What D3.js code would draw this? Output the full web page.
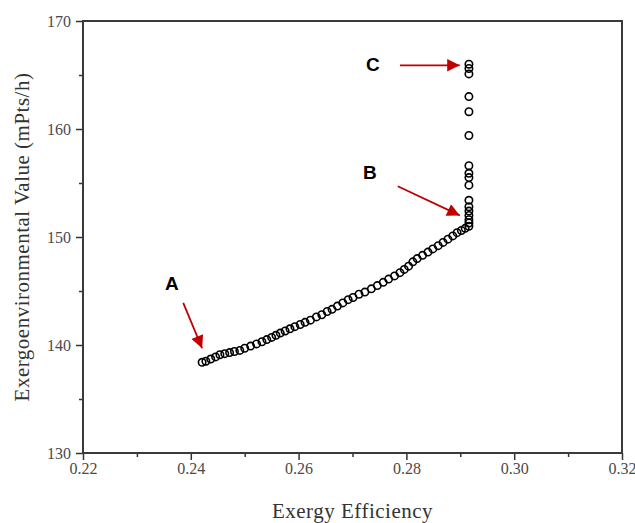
<!DOCTYPE html>
<html>
<head>
<meta charset="utf-8">
<script src="https://cdn.jsdelivr.net/npm/d3@7"></script>
<style>
  body { margin: 0; background: #fff; }
  .tick text { font-family: "Liberation Serif", serif; font-size: 16px; fill: #4a4a4a; }
  .tick line { stroke: #333; stroke-width: 1.5; }
  .domain { display: none; }
</style>
</head>
<body>
<script>
// data
var xTicks = [0.22, 0.24, 0.26, 0.28, 0.30, 0.32];
var yTicks = [130, 140, 150, 160, 170];

var curveX = [0.2421, 0.2428, 0.2437, 0.2446, 0.2454, 0.2463, 0.2472, 0.2481, 0.2491, 0.2500,
              0.2511, 0.2522, 0.2532, 0.2541, 0.2550, 0.2558, 0.2566, 0.2575, 0.2584, 0.2593,
              0.2603, 0.2612, 0.2622, 0.2633, 0.2643, 0.2653, 0.2662, 0.2672, 0.2682, 0.2692,
              0.2701, 0.2712, 0.2723, 0.2735, 0.2746, 0.2757, 0.2767, 0.2778, 0.2788, 0.2796,
              0.2804, 0.2812, 0.2820, 0.2830, 0.2840, 0.2849, 0.2859, 0.2868, 0.2877, 0.2886,
              0.2894, 0.2902, 0.2909, 0.2916];
var curveY = [138.4, 138.5, 138.7, 138.9, 139.1, 139.2, 139.3, 139.4, 139.5, 139.7,
              139.9, 140.1, 140.3, 140.5, 140.7, 140.9, 141.1, 141.3, 141.5, 141.7,
              141.9, 142.1, 142.3, 142.6, 142.8, 143.1, 143.3, 143.6, 143.9, 144.2,
              144.4, 144.7, 144.9, 145.2, 145.5, 145.8, 146.1, 146.4, 146.7, 147.0,
              147.3, 147.7, 148.0, 148.3, 148.6, 148.9, 149.2, 149.5, 149.8, 150.1,
              150.4, 150.6, 150.8, 151.0];

// vertical stack at the max efficiency
var stackX = 0.2916;
var stackY = [151.3, 151.6, 152.0, 152.4, 152.8, 153.4, 154.8, 155.5, 155.9, 156.6,
              159.4, 161.6, 163.0, 165.1, 165.6, 166.0];

var labels = [
  {name: "A", lx: 0.2365, ly: 145.7, x0: 0.2386, y0: 143.9, x1: 0.2421, y1: 139.7},
  {name: "B", lx: 0.2732, ly: 156.0, x0: 0.2784, y0: 154.7, x1: 0.2899, y1: 152.0},
  {name: "C", lx: 0.2738, ly: 166.0, x0: 0.2788, y0: 165.9, x1: 0.2899, y1: 165.9}
];

var margin = {top: 21, right: 13, bottom: 70, left: 83},
    width = 635 - margin.left - margin.right,
    height = 523 - margin.top - margin.bottom;

var x = d3.scaleLinear().domain([0.22, 0.32]).range([0, width]);
var y = d3.scaleLinear().domain([130, 170]).range([height, 0]);

var svg = d3.select("body").append("svg")
    .attr("width", 635)
    .attr("height", 523)
  .append("g")
    .attr("transform", "translate(" + margin.left + "," + margin.top + ")");

// arrow head
svg.append("defs").append("marker")
    .attr("id", "head")
    .attr("viewBox", "0 0 10 10")
    .attr("refX", 10).attr("refY", 5)
    .attr("markerWidth", 8).attr("markerHeight", 7)
    .attr("markerUnits", "strokeWidth")
    .attr("orient", "auto")
  .append("path")
    .attr("d", "M0,0 L10,5 L0,10 z")
    .attr("fill", "#c00000");

// minor ticks
svg.append("g")
    .attr("transform", "translate(0," + height + ")")
    .call(d3.axisBottom(x).tickValues([0.23, 0.25, 0.27, 0.29, 0.31]).tickSize(4).tickFormat(""));
svg.append("g")
    .call(d3.axisLeft(y).tickValues([135, 145, 155, 165]).tickSize(4).tickFormat(""));

// major ticks
svg.append("g")
    .attr("transform", "translate(0," + height + ")")
    .call(d3.axisBottom(x).tickValues(xTicks).tickSize(7).tickPadding(3).tickFormat(d3.format(".2f")));
svg.append("g")
    .call(d3.axisLeft(y).tickValues(yTicks).tickSize(7).tickPadding(5).tickFormat(d3.format("d")));

// frame
svg.append("rect")
    .attr("width", width).attr("height", height)
    .attr("fill", "none")
    .attr("stroke", "#3a3a3a")
    .attr("stroke-width", 2);

var pts = curveX.map(function(d, i) { return {x: d, y: curveY[i]}; })
    .concat(stackY.map(function(d) { return {x: stackX, y: d}; }));

svg.selectAll(".pt")
    .data(pts)
  .enter().append("circle")
    .attr("class", "pt")
    .attr("cx", function(d) { return x(d.x); })
    .attr("cy", function(d) { return y(d.y); })
    .attr("r", 3.7)
    .attr("fill", "none")
    .attr("stroke", "#000")
    .attr("stroke-width", 1.6);

svg.selectAll(".arr")
    .data(labels)
  .enter().append("line")
    .attr("class", "arr")
    .attr("x1", function(d) { return x(d.x0); })
    .attr("y1", function(d) { return y(d.y0); })
    .attr("x2", function(d) { return x(d.x1); })
    .attr("y2", function(d) { return y(d.y1); })
    .attr("stroke", "#c00000")
    .attr("stroke-width", 1.8)
    .attr("marker-end", "url(#head)");

svg.selectAll(".lab")
    .data(labels)
  .enter().append("text")
    .attr("class", "lab")
    .attr("x", function(d) { return x(d.lx); })
    .attr("y", function(d) { return y(d.ly); })
    .attr("dy", "0.35em")
    .style("text-anchor", "middle")
    .style("font-family", "Liberation Sans, Arial, sans-serif")
    .style("font-weight", "bold")
    .style("font-size", "19px")
    .text(function(d) { return d.name; });

svg.append("text")
    .attr("x", width / 2)
    .attr("y", height + 65)
    .style("text-anchor", "middle")
    .style("font-family", "Liberation Serif, serif")
    .style("font-size", "21px")
    .style("letter-spacing", "0.5px")
    .style("fill", "#333")
    .text("Exergy Efficiency");

svg.append("text")
    .attr("transform", "rotate(-90)")
    .attr("x", -height / 2)
    .attr("y", -margin.left + 29)
    .style("text-anchor", "middle")
    .style("font-family", "Liberation Serif, serif")
    .style("font-size", "21px")
    .style("letter-spacing", "0.5px")
    .style("fill", "#333")
    .text("Exergoenvironmental Value (mPts/h)");
</script>
</body>
</html>
